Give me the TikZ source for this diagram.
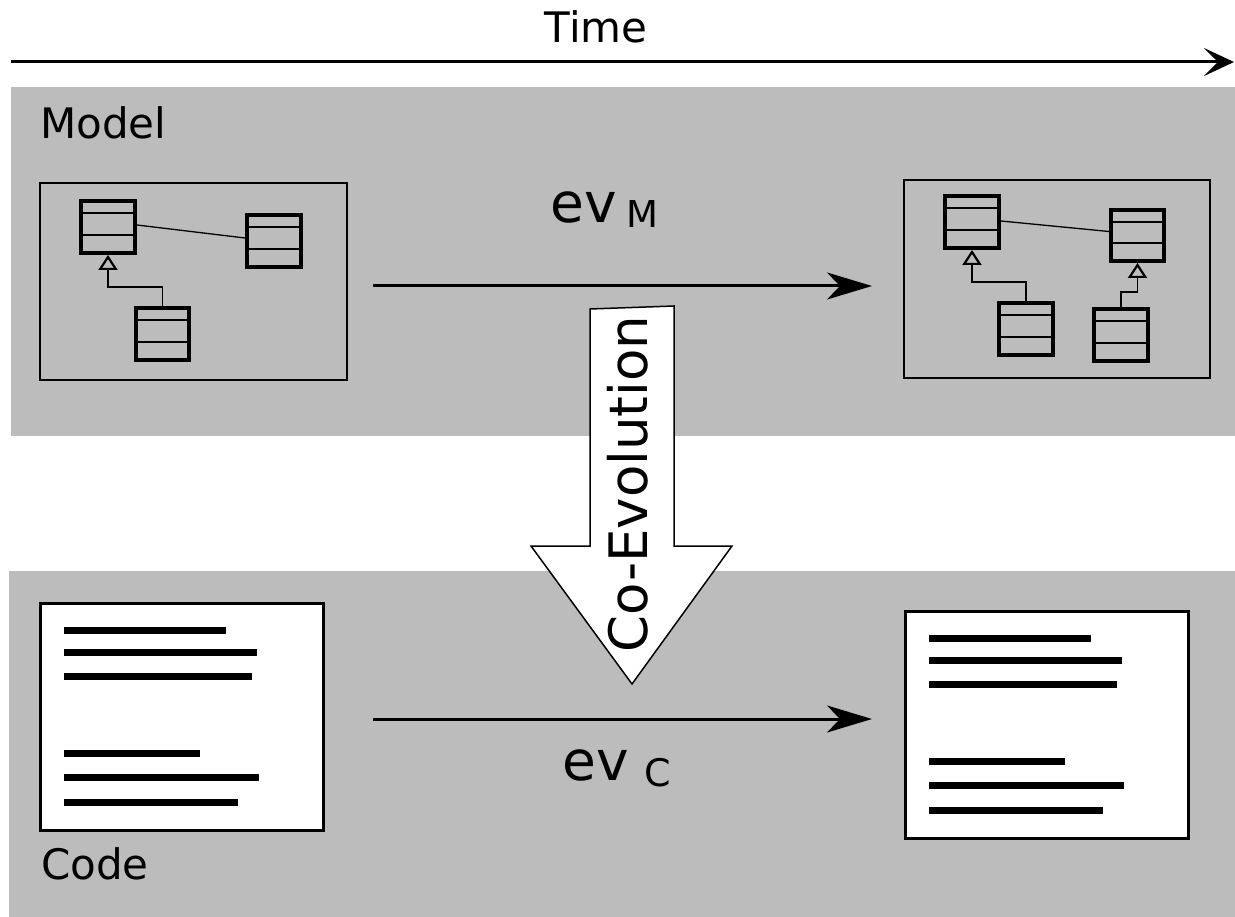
\documentclass[tikz,border=0pt]{standalone}
\usepackage{fontspec}
\setmainfont{DejaVu Sans}
\usetikzlibrary{arrows.meta,calc}
\definecolor{band}{RGB}{188,188,188}
\tikzset{
  bandbox/.style={fill=band, draw=none},
  frame/.style={draw=black, line width=2pt, inner sep=0pt, anchor=north west},
  codeframe/.style={draw=black, line width=2.5pt, fill=white, inner sep=0pt, anchor=north west},
  cls/.style={draw=black, line width=4pt, inner sep=0pt, anchor=north west},
  clsline/.style={line width=2pt},
  assoc/.style={line width=1.3pt},
  inh/.style={line width=1.3pt, -{Triangle[open, length=15pt, width=19pt, line width=2.2pt]}},
  evarrow/.style={line width=3pt, -{Stealth[length=45pt, width=27pt, inset=13pt]}},
  timearrow/.style={line width=3pt, -{Stealth[length=30pt, width=28pt, inset=14pt]}},
  codeline/.style={line width=7pt},
  lbl/.style={inner sep=0pt, font=\fontsize{42pt}{50pt}\selectfont},
  evlbl/.style={inner sep=0pt, anchor=base west}
}
\newcommand{\umlbox}[5]{%
  \node[cls, minimum width=#4pt, minimum height=#5pt] (#1) at (#2,#3) {};
  \draw[clsline] ($(#1.north west)!0.25!(#1.south west)$) -- ($(#1.north east)!0.25!(#1.south east)$);
  \draw[clsline] ($(#1.north west)!0.635!(#1.south west)$) -- ($(#1.north east)!0.635!(#1.south east)$);
}
\newcommand{\codelines}[1]{%
  \foreach \dy/\len in {28/162, 50/193, 74/188, 151/136, 175/195, 200/174}
    \draw[codeline] ([shift={(25,\dy)}]#1.north west) -- ++(\len,0);
}
\begin{document}
\begin{tikzpicture}[x=1pt, y=-1pt]
\useasboundingbox (0,0) rectangle (1235,917);
% bands
\fill[band] (11,87) rectangle (1235,436);
\fill[band] (9,571) rectangle (1235,917);
% time
\coordinate (t0) at (11,62);
\coordinate (t1) at (1234,62);
\draw[timearrow] (t0) -- (t1);
\node[lbl, anchor=base] (time) at (596,43) {Time};
\node[lbl, anchor=base west] (model) at (40,139) {Model};
\node[lbl, anchor=base west] (code) at (41,879) {Code};
% model frames
\node[frame, minimum width=307pt, minimum height=197pt] (m1) at (39,182) {};
\node[frame, minimum width=306pt, minimum height=198pt] (m2) at (903,179) {};
% left model classes
\umlbox{a1}{79}{199}{54}{52}
\umlbox{b1}{245}{213}{54}{52}
\umlbox{c1}{134}{306}{53}{52}
\draw[assoc] ([yshift=2pt]a1.east) -- ([yshift=3pt]b1.west);
\draw[inh] (c1.north) |- ([yshift=-32pt]a1.south) -- (a1.south);
% right model classes
\umlbox{a2}{943}{194}{54}{52}
\umlbox{b2}{1109}{208}{53}{51}
\umlbox{c2}{997}{301}{54}{52}
\umlbox{d2}{1092}{307}{54}{52}
\draw[assoc] ([yshift=1pt]a2.east) -- ([yshift=4pt]b2.west);
\draw[inh] (c2.north) |- ([yshift=-32pt]a2.south) -- (a2.south);
\draw[inh] (d2.north) |- ([yshift=-29pt]b2.south) -- (b2.south);
% ev_M arrow
\coordinate (em0) at (373,286);
\coordinate (em1) at (872,286);
\draw[evarrow] (em0) -- (em1);
\node[evlbl] (evm) at (550,223) {{\fontsize{55pt}{66pt}\selectfont ev}\hspace{10pt}\raisebox{-5pt}{\fontsize{37pt}{45pt}\selectfont M}};
% code frames
\node[codeframe, minimum width=283pt, minimum height=227pt] (k1) at (39,602) {};
\codelines{k1}
\node[codeframe, minimum width=283pt, minimum height=227pt] (k2) at (904,610) {};
\codelines{k2}
% ev_C arrow
\coordinate (ec0) at (373,719);
\coordinate (ec1) at (872,719);
\draw[evarrow] (ec0) -- (ec1);
\node[evlbl] (evc) at (562,780) {{\fontsize{55pt}{66pt}\selectfont ev}\hspace{16pt}\raisebox{-6pt}{\fontsize{38pt}{45pt}\selectfont C}};
% co-evolution arrow
\draw[fill=white, line width=1.5pt, line join=miter] (590,309) -- (674,306) -- (674,546) -- (732,546) -- (632,684) -- (531,546) -- (590,546) -- cycle;
\node[inner sep=0pt, rotate=90, anchor=base, font=\fontsize{53pt}{64pt}\selectfont] (coevo) at (647,484) {Co-Evolution};
\end{tikzpicture}
\end{document}
